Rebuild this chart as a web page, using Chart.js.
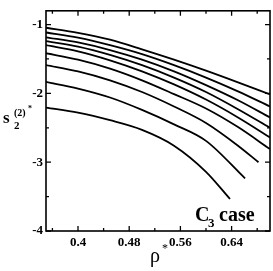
<!DOCTYPE html>
<html>
<head>
<meta charset="utf-8">
<script src="https://cdn.jsdelivr.net/npm/chart.js@4/dist/chart.umd.min.js"></script>
<style>
  html, body { margin: 0; padding: 0; background: #fff; }
  #wrap { width: 273px; height: 271px; }
</style>
</head>
<body>
<div id="wrap"><canvas id="c3Chart"></canvas></div>
<script>
// density grid (rho*) and s2(2)* curves, top to bottom
const rho = [0.35, 0.40, 0.45, 0.50, 0.55, 0.60, 0.65, 0.70];
const rhoEnd = [0.70, 0.70, 0.70, 0.70, 0.70, 0.70, 0.682, 0.661, 0.6375];
const s1 = [-1.046, -1.12, -1.22, -1.36, -1.51, -1.67, -1.84, -2.015];
const s2 = [-1.115, -1.19, -1.30, -1.43, -1.59, -1.77, -1.97, -2.19];
const s3 = [-1.185, -1.26, -1.37, -1.51, -1.68, -1.88, -2.10, -2.35];
const s4 = [-1.24, -1.32, -1.44, -1.59, -1.77, -1.98, -2.23, -2.50];
const s5 = [-1.30, -1.39, -1.52, -1.68, -1.87, -2.09, -2.35, -2.64];
const s6 = [-1.417, -1.51, -1.64, -1.81, -2.01, -2.22, -2.49, -2.81];
const s7 = [-1.588, -1.68, -1.81, -1.98, -2.19, -2.43, -2.76, -3.00];
const s8 = [-1.834, -1.93, -2.06, -2.24, -2.45, -2.69, -3.235];
const s9 = [-2.206, -2.28, -2.39, -2.53, -2.76, -3.14, -3.535];
const curves = [s1, s2, s3, s4, s5, s6, s7, s8, s9];

const xTicks = [0.4, 0.48, 0.56, 0.64];
const xMinor = [0.36, 0.44, 0.52, 0.60, 0.68];
const yTicks = [-4, -3, -2, -1];
const yMinor = [-3.5, -2.5, -1.5];

const serif = "'Liberation Serif', 'DejaVu Serif', serif";

function toPoints(vals, end) {
    const pts = [];
    rho.forEach((r, i) => {
        if (r < end - 1e-9 && i < vals.length - 1) pts.push({ x: r, y: vals[i] });
    });
    pts.push({ x: end, y: vals[vals.length - 1] });
    return pts;
}

// frame, inward ticks and the text labels
const framePlugin = {
    id: 'frame',
    afterDraw(chart) {
        const { ctx, chartArea: a, scales } = chart;
        const xs = scales.x, ys = scales.y;
        ctx.save();
        ctx.strokeStyle = '#000';
        ctx.lineWidth = 1.6;
        ctx.strokeRect(a.left, a.top, a.right - a.left, a.bottom - a.top);
        ctx.lineWidth = 1.3;
        ctx.beginPath();
        const xt = (v, len) => {
            const p = xs.getPixelForValue(v);
            ctx.moveTo(p, a.bottom); ctx.lineTo(p, a.bottom - len);
            ctx.moveTo(p, a.top); ctx.lineTo(p, a.top + len);
        };
        const yt = (v, len) => {
            const p = ys.getPixelForValue(v);
            ctx.moveTo(a.left, p); ctx.lineTo(a.left + len, p);
            ctx.moveTo(a.right, p); ctx.lineTo(a.right - len, p);
        };
        xTicks.forEach(v => xt(v, 5));
        xMinor.forEach(v => xt(v, 3));
        yTicks.forEach(v => yt(v, 5));
        yMinor.forEach(v => yt(v, 3));
        ctx.stroke();

        ctx.fillStyle = '#000';
        ctx.textBaseline = 'alphabetic';
        // y title: s_2^(2)*
        ctx.font = 'bold 17px ' + serif;
        ctx.fillText('s', 3, 123);
        ctx.font = 'bold 11px ' + serif;
        ctx.fillText('2', 14, 129);
        ctx.font = 'bold 10px ' + serif;
        ctx.fillText('(2)', 14, 116);
        ctx.font = 'bold 8px ' + serif;
        ctx.fillText('*', 28, 111);

        // x title: rho*
        ctx.font = '20px ' + serif;
        ctx.fillText('ρ', 150, 262);
        ctx.font = '12px ' + serif;
        ctx.fillText('*', 162, 252);

        // C3 case
        ctx.font = 'bold 20px ' + serif;
        ctx.fillText('C', 195, 221);
        ctx.font = 'bold 13px ' + serif;
        ctx.fillText('3', 208, 227);
        ctx.font = 'bold 20px ' + serif;
        ctx.fillText('case', 219, 221);
        ctx.restore();
    }
};

document.addEventListener('DOMContentLoaded', () => {
    const ctx = document.getElementById('c3Chart');

    new Chart(ctx, {
        type: 'line',
        data: {
            datasets: curves.map((vals, i) => ({
                data: toPoints(vals, rhoEnd[i]),
                borderColor: '#000',
                borderWidth: 1.8,
                pointRadius: 0,
                fill: false,
                cubicInterpolationMode: 'monotone'
            }))
        },
        options: {
            responsive: true,
            maintainAspectRatio: false,
            animation: false,
            layout: { padding: { top: 2, right: 3, left: 0, bottom: 0 }, autoPadding: false },
            plugins: {
                legend: { display: false },
                tooltip: { enabled: false }
            },
            scales: {
                x: {
                    type: 'linear',
                    min: 0.35,
                    max: 0.70,
                    afterFit: s => { s.height = 40; },
                    afterBuildTicks: s => { s.ticks = xTicks.map(v => ({ value: v })); },
                    grid: { display: false, drawTicks: false },
                    border: { display: false },
                    ticks: {
                        padding: 4,
                        color: '#000',
                        font: { family: serif, size: 13, weight: 'bold' },
                        callback: v => String(v)
                    }
                },
                y: {
                    type: 'linear',
                    min: -4,
                    max: -0.8,
                    afterFit: s => { s.width = 46; },
                    afterBuildTicks: s => { s.ticks = yTicks.map(v => ({ value: v })); },
                    grid: { display: false, drawTicks: false },
                    border: { display: false },
                    ticks: {
                        padding: 3,
                        color: '#000',
                        font: { family: serif, size: 13, weight: 'bold' },
                        callback: v => String(v)
                    }
                }
            }
        },
        plugins: [framePlugin]
    });
});
</script>
</body>
</html>
